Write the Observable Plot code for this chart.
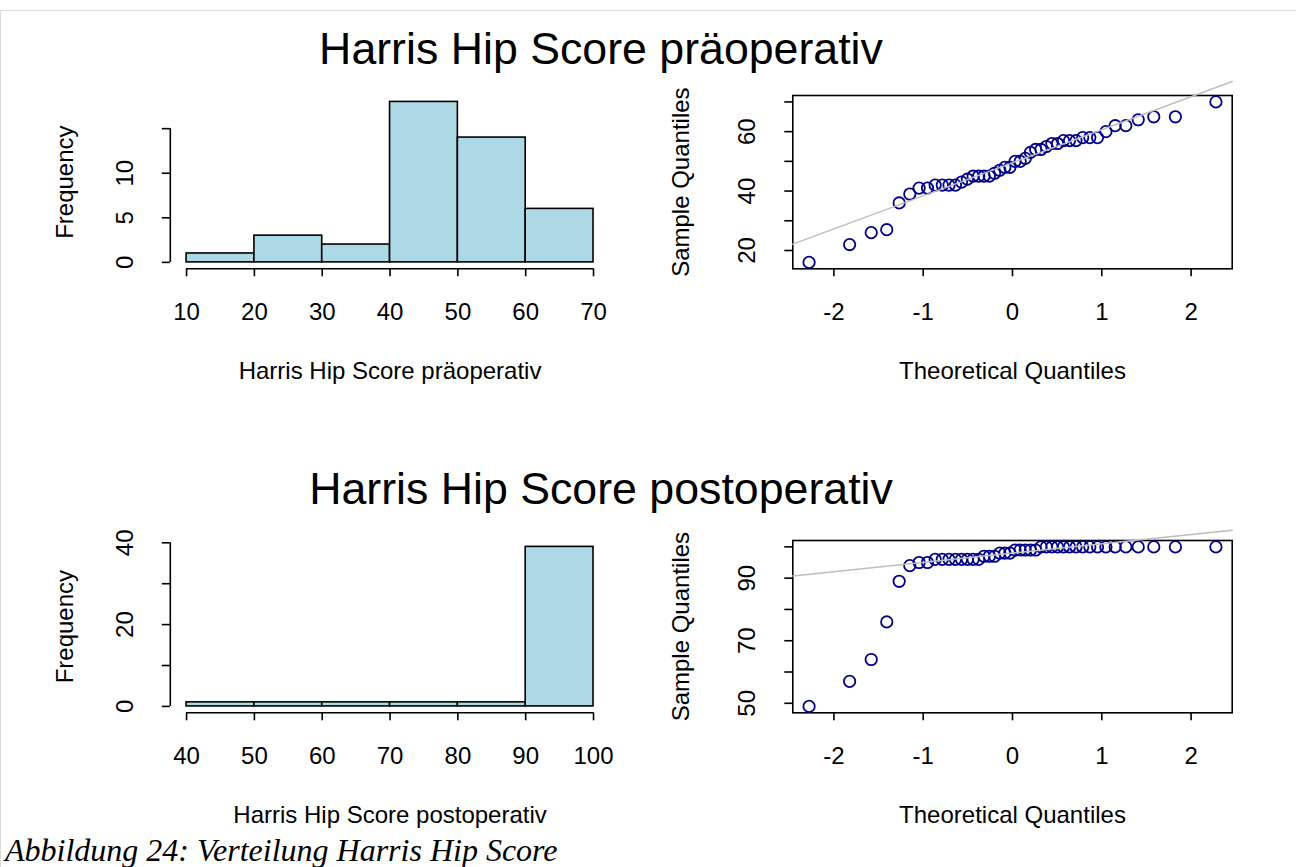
<!DOCTYPE html>
<html>
<head>
<meta charset="utf-8">
<script src="https://cdn.jsdelivr.net/npm/d3@7"></script>
<script src="https://cdn.jsdelivr.net/npm/@observablehq/plot@0.6"></script>
<style>
  html, body { margin: 0; padding: 0; background: #fff; }
  #page { position: relative; width: 1296px; height: 867px; overflow: hidden; background: #fff;
          font-family: "Liberation Sans", Arial, sans-serif; color: #000; }
  #sheet { position: absolute; left: 0; top: 10px; width: 1300px; height: 870px;
           border-top: 1px solid #d8d8d8; border-left: 1px solid #d8d8d8; }
  .panel { position: absolute; }
  .title { position: absolute; left: 0; width: 1202px; text-align: center; font-size: 44.7px;
           line-height: 44px; white-space: nowrap; }
  #caption { position: absolute; left: 5px; top: 834px; font-family: "Liberation Serif", "Times New Roman", serif;
             font-style: italic; font-size: 32px; line-height: 32px; white-space: nowrap; }
</style>
</head>
<body>
<div id="page">
  <div id="sheet"></div>
  <div class="title" style="top:27px">Harris Hip Score präoperativ</div>
  <div class="title" style="top:467px">Harris Hip Score postoperativ</div>
  <div id="caption">Abbildung 24: Verteilung Harris Hip Score</div>
</div>
<script>
// Histogram bins (lower edge, upper edge, frequency)
const preBinLow = [10, 20, 30, 40, 50, 60];
const preBinHigh = [20, 30, 40, 50, 60, 70];
const preCounts = [1, 3, 2, 18, 14, 6];

const postBinLow = [40, 50, 60, 70, 80, 90];
const postBinHigh = [50, 60, 70, 80, 90, 100];
const postCounts = [1, 1, 1, 1, 1, 39];

// Theoretical normal quantiles for n = 44
const theoQuantiles = [
  -2.278, -1.824, -1.582, -1.408, -1.269, -1.150, -1.046, -0.952, -0.866, -0.786, -0.711,
  -0.639, -0.571, -0.505, -0.441, -0.379, -0.319, -0.259, -0.201, -0.143, -0.086, -0.029,
  0.029, 0.086, 0.143, 0.201, 0.259, 0.319, 0.379, 0.441, 0.505, 0.571, 0.639,
  0.711, 0.786, 0.866, 0.952, 1.046, 1.150, 1.269, 1.408, 1.582, 1.824, 2.278
];

// Sorted Harris Hip Scores
const preScores = [
  16, 22, 26, 27, 36, 39, 41, 41, 42, 42, 42, 42, 43, 44, 45, 45, 45, 45, 46, 47, 48, 48,
  50, 50, 51, 53, 54, 54, 55, 56, 56, 57, 57, 57, 58, 58, 58, 60, 62, 62, 64, 65, 65, 70
];
const postScores = [
  49, 57, 64, 76, 89, 94, 95, 95, 96, 96, 96, 96, 96, 96, 96, 96, 97, 97, 97, 98, 98, 98,
  99, 99, 99, 99, 99, 100, 100, 100, 100, 100, 100, 100, 100, 100, 100, 100, 100, 100, 100, 100, 100, 100
];

// Reference lines through the quartiles (intercept, slope)
const preLine = [49.5, 11.12];
const postLine = [98.0, 2.965];

// Axis ticks and labelled ticks
const preHistXTicks = [10, 20, 30, 40, 50, 60, 70];
const preHistYTicks = [0, 5, 10, 15];
const preHistYLabels = [0, 5, 10];
const postHistXTicks = [40, 50, 60, 70, 80, 90, 100];
const postHistYTicks = [0, 10, 20, 30, 40];
const postHistYLabels = [0, 20, 40];
const qqXTicks = [-2, -1, 0, 1, 2];
const preQQYTicks = [20, 30, 40, 50, 60, 70];
const preQQYLabels = [20, 40, 60];
const postQQYTicks = [50, 60, 70, 80, 90, 100];
const postQQYLabels = [50, 70, 90];

const LW = 1.6;
const FONT = 24;
// R-style axis range: data range widened by 4% on each side
const widen = (a, b) => [a - (b - a) * 0.04, b + (b - a) * 0.04];

function frameOpts(w, h, m) {
  return {
    width: w, height: h,
    marginLeft: m[0], marginRight: m[1], marginTop: m[2], marginBottom: m[3],
    style: { fontFamily: '"Liberation Sans", Arial, sans-serif', fontSize: FONT + "px",
             background: "transparent", overflow: "visible", color: "#000" }
  };
}

const centered = { textAnchor: "middle", lineAnchor: "middle", fontSize: FONT, fill: "#000" };

function axisText(xTicks, yLabels, xTitle, yTitle, yTitleOffset) {
  return [
    Plot.axisX({ ticks: xTicks, tickSize: 8, fill: "none", label: null, strokeWidth: LW }),
    Plot.text(xTicks, { x: d => d, frameAnchor: "bottom", dy: 43.5, text: d => String(d), ...centered }),
    Plot.text(yLabels, { y: d => d, frameAnchor: "left", dx: -45, rotate: -90, text: d => String(d), ...centered }),
    Plot.text([xTitle], { frameAnchor: "bottom", dy: 102.5, ...centered }),
    Plot.text([yTitle], { frameAnchor: "left", dx: -yTitleOffset, rotate: -90, ...centered })
  ];
}

function histogram(low, high, counts, xTicks, yTicks, yLabels, xTitle, geom) {
  const bins = low.map((l, i) => ({ x1: l, x2: high[i], n: counts[i] }));
  const xd = widen(low[0], high[high.length - 1]);
  const yd = widen(0, d3.max(counts));
  return Plot.plot({
    ...frameOpts(geom.w, geom.h, geom.m),
    x: { domain: xd },
    y: { domain: yd },
    marks: [
      Plot.rectY(bins, { x1: "x1", x2: "x2", y: "n", fill: "#ADD8E6", stroke: "#000", strokeWidth: LW }),
      Plot.ruleY([yd[0]], { x1: xTicks[0], x2: xTicks[xTicks.length - 1], strokeWidth: LW }),
      Plot.ruleX([xd[0]], { y1: yTicks[0], y2: yTicks[yTicks.length - 1], strokeWidth: LW }),
      Plot.axisY({ ticks: yTicks, tickSize: 8, fill: "none", label: null, strokeWidth: LW }),
      ...axisText(xTicks, yLabels, xTitle, "Frequency", 104.5)
    ]
  });
}

function qqPlot(values, line, yTicks, yLabels, geom) {
  const rows = values.map((v, i) => ({ q: theoQuantiles[i], v }));
  const xd = widen(d3.min(theoQuantiles), d3.max(theoQuantiles));
  const yd = widen(d3.min(values), d3.max(values));
  return Plot.plot({
    ...frameOpts(geom.w, geom.h, geom.m),
    x: { domain: xd },
    y: { domain: yd },
    marks: [
      Plot.frame({ stroke: "#000", strokeWidth: LW }),
      Plot.axisY({ ticks: yTicks, tickSize: 8, fill: "none", label: null, strokeWidth: LW }),
      Plot.dot(rows, { x: "q", y: "v", r: 5.7, stroke: "#00008B", strokeWidth: 1.8, fill: "none" }),
      Plot.line(xd, { x: d => d, y: d => line[0] + line[1] * d, stroke: "#bebebe", strokeWidth: 1.5 }),
      ...axisText(qqXTicks, yLabels, "Theoretical Quantiles", "Sample Quantiles", 111)
    ]
  });
}

const page = document.getElementById("page");
function place(node, left, top) {
  node.classList.add("panel");
  node.style.left = left + "px";
  node.style.top = top + "px";
  page.appendChild(node);
}

const leftGeom = { w: 648, h: 340, m: [169.8, 38.7, 25, 141.7] };
const rightGeom = { w: 648, h: 340, m: [144.3, 64.3, 25, 141.7] };
const leftGeomB = { w: 648, h: 340, m: [169.8, 38.7, 25, 142.7] };
const rightGeomB = { w: 648, h: 340, m: [144.3, 64.3, 25, 142.7] };

place(histogram(preBinLow, preBinHigh, preCounts, preHistXTicks, preHistYTicks, preHistYLabels,
                "Harris Hip Score präoperativ", leftGeom), 0, 70);
place(qqPlot(preScores, preLine, preQQYTicks, preQQYLabels, rightGeom), 648, 70);
place(histogram(postBinLow, postBinHigh, postCounts, postHistXTicks, postHistYTicks, postHistYLabels,
                "Harris Hip Score postoperativ", leftGeomB), 0, 515);
place(qqPlot(postScores, postLine, postQQYTicks, postQQYLabels, rightGeomB), 648, 515);
</script>
</body>
</html>
